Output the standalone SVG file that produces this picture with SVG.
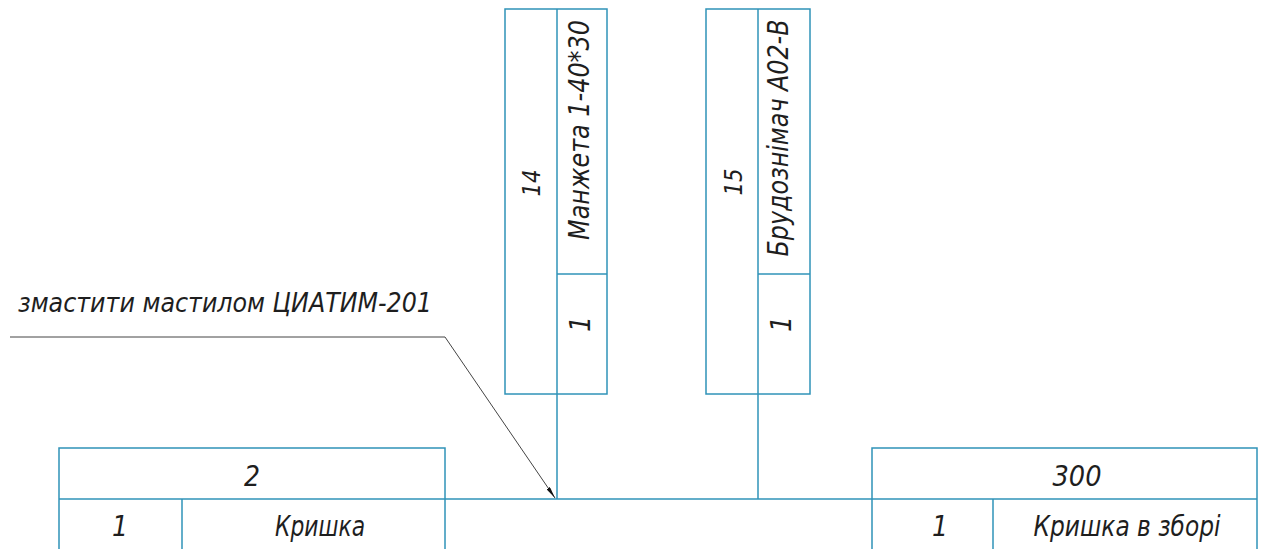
<svg xmlns="http://www.w3.org/2000/svg" width="1261" height="549" viewBox="0 0 1261 549">
<style>
.box{fill:none;stroke:#2f93b8;stroke-width:1.5}
.ln{stroke:#2f93b8;stroke-width:1.5;fill:none}
.t{font-family:"DejaVu Sans Condensed","DejaVu Sans","Liberation Sans",sans-serif;font-style:italic;fill:#1e1e1e}
.lead{fill:none;stroke:#444;stroke-width:1}
</style>
<defs>
<marker id="arr" viewBox="0 0 12 4" refX="12" refY="2" markerWidth="12" markerHeight="4" markerUnits="userSpaceOnUse" orient="auto">
<path d="M0,0 L12,2 L0,4 z" fill="#111"/>
</marker>
</defs>
<rect width="1261" height="549" fill="#fff"/>

<g id="connectors">
<line class="ln" x1="445" y1="499" x2="872" y2="499"/>
<line class="ln" x1="557" y1="394" x2="557" y2="499"/>
<line class="ln" x1="758" y1="394" x2="758" y2="499"/>
<polyline class="lead" points="10,337 445,337 555,498" marker-end="url(#arr)"/>
</g>

<g id="note">
<text class="t" x="18" y="312" font-size="26" textLength="414" lengthAdjust="spacingAndGlyphs">змастити мастилом ЦИАТИМ-201</text>
</g>

<g id="node-14">
<rect class="box" x="505" y="9" width="102" height="385"/>
<line class="ln" x1="557" y1="9" x2="557" y2="394"/>
<line class="ln" x1="557" y1="274" x2="607" y2="274"/>
<text class="t" font-size="24" text-anchor="middle" transform="translate(540,183) rotate(-90)" textLength="27" lengthAdjust="spacingAndGlyphs">14</text>
<text class="t" font-size="28" text-anchor="middle" transform="translate(589,130) rotate(-90)" textLength="220" lengthAdjust="spacingAndGlyphs">Манжета 1-40*30</text>
<text class="t" font-size="28" text-anchor="middle" transform="translate(590,324) rotate(-90)">1</text>
</g>

<g id="node-15">
<rect class="box" x="706" y="9" width="104" height="385"/>
<line class="ln" x1="758" y1="9" x2="758" y2="394"/>
<line class="ln" x1="758" y1="274" x2="810" y2="274"/>
<text class="t" font-size="24" text-anchor="middle" transform="translate(742,182) rotate(-90)" textLength="27" lengthAdjust="spacingAndGlyphs">15</text>
<text class="t" font-size="28" text-anchor="middle" transform="translate(788,138) rotate(-90)" textLength="237" lengthAdjust="spacingAndGlyphs">Брудознімач А02-В</text>
<text class="t" font-size="28" text-anchor="middle" transform="translate(791,324) rotate(-90)">1</text>
</g>

<g id="node-2">
<rect class="box" x="59" y="448" width="386" height="110"/>
<line class="ln" x1="59" y1="499" x2="445" y2="499"/>
<line class="ln" x1="182" y1="499" x2="182" y2="558"/>
<text class="t" font-size="28" text-anchor="middle" x="252" y="486">2</text>
<text class="t" font-size="28" text-anchor="middle" x="120" y="536">1</text>
<text class="t" font-size="28" text-anchor="middle" x="320" y="536" textLength="90" lengthAdjust="spacingAndGlyphs">Кришка</text>
</g>

<g id="node-300">
<rect class="box" x="872" y="448" width="385" height="110"/>
<line class="ln" x1="872" y1="499" x2="1257" y2="499"/>
<line class="ln" x1="993" y1="499" x2="993" y2="558"/>
<text class="t" font-size="28" text-anchor="middle" x="1077" y="486" textLength="49" lengthAdjust="spacingAndGlyphs">300</text>
<text class="t" font-size="28" text-anchor="middle" x="940" y="536">1</text>
<text class="t" font-size="28" text-anchor="middle" x="1127" y="536" textLength="187" lengthAdjust="spacingAndGlyphs">Кришка в зборі</text>
</g>
</svg>
